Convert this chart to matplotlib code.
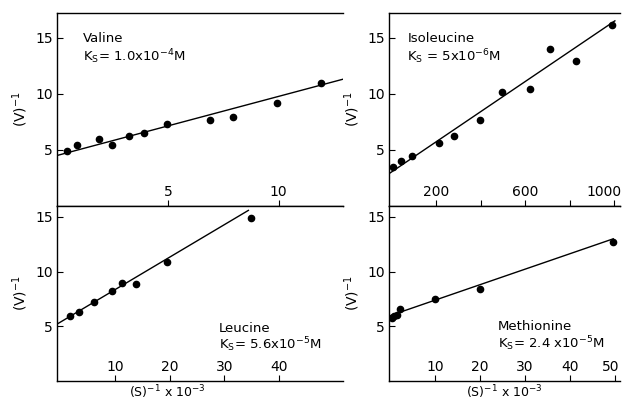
import matplotlib
matplotlib.use("Agg")
import matplotlib.pyplot as plt
import matplotlib.transforms as mtransforms

# Valine
val_x = [0.44, 0.92, 1.9, 2.48, 3.24, 3.92, 4.98, 6.9, 7.94, 9.93, 11.9]
val_y = [4.9, 5.4, 6.0, 5.4, 6.2, 6.5, 7.35, 7.7, 7.9, 9.2, 11.0]
val_line = [(0.0, 4.5), (12.9, 11.3)]

# Isoleucine
ile_x = [3, 42, 91, 211, 277, 395, 493, 619, 710, 825, 990]
ile_y = [3.45, 4.0, 4.5, 5.6, 6.2, 7.7, 10.15, 10.45, 14.0, 12.95, 16.1]
ile_line = [(-12, 2.9), (1002, 16.5)]

# Leucine
leu_x = [1.7, 3.5, 6.2, 9.5, 11.2, 13.8, 19.6, 34.9]
leu_y = [5.97, 6.28, 7.2, 8.2, 9.0, 8.85, 10.9, 14.9]
leu_line = [(-0.6, 5.2), (34.4, 15.6)]

# Methionine
met_x = [0.4, 1.0, 1.5, 2.2, 10.1, 20.0, 49.6]
met_y = [5.8, 5.9, 6.0, 6.6, 7.5, 8.45, 12.7]
met_line = [(0.0, 5.97), (49.6, 13.0)]

plt.rcParams["font.family"] = ["DejaVu Sans"]
plt.rcParams["mathtext.fontset"] = "dejavusans"

fig = plt.figure(figsize=(6.22, 4.0), dpi=100)
W, H = 622, 400


def make_ax(x0, x1, y0, y1):
    return fig.add_axes([x0 / W, 1 - y1 / H, (x1 - x0) / W, (y1 - y0) / H])


ax_val = make_ax(57, 343, 13, 206)
ax_ile = make_ax(389, 620, 13, 206)
ax_leu = make_ax(57, 343, 206, 381)
ax_met = make_ax(389, 620, 206, 381)

panels = [
    (ax_val, val_x, val_y, val_line, (0, 12.9), (0, 17.2), [5, 10], [5, 10],
     "Valine", r"K$_\mathrm{S}$= 1.0x10$^{-4}$M", (0.09, 0.85)),
    (ax_ile, ile_x, ile_y, ile_line, (-13.5, 1025), (0, 17.2), [200, 400, 600, 800, 1000],
     ["200", "", "600", "", "1000"],
     "Isoleucine", r"K$_\mathrm{S}$ = 5x10$^{-6}$M", (0.08, 0.85)),
    (ax_leu, leu_x, leu_y, leu_line, (-0.6, 51.7), (0, 16), [10, 20, 30, 40], [10, 20, 30, 40],
     "Leucine", r"K$_\mathrm{S}$= 5.6x10$^{-5}$M", (0.565, 0.28)),
    (ax_met, met_x, met_y, met_line, (-0.2, 51.1), (0, 16), [10, 20, 30, 40, 50],
     [10, 20, 30, 40, 50],
     "Methionine", r"K$_\mathrm{S}$= 2.4 x10$^{-5}$M", (0.47, 0.29)),
]

for ax, xs, ys, line, xlim, ylim, xt, xtl, name, ks, pos in panels:
    ax.plot(xs, ys, "o", color="black", markersize=4.5)
    lx, ly = zip(*line)
    ax.plot(lx, ly, "-", color="black", linewidth=1.0)
    ax.set_xlim(*xlim)
    ax.set_ylim(*ylim)
    ax.set_xticks(xt)
    ax.set_xticklabels([str(t) for t in xtl])
    ax.set_yticks([5, 10, 15])
    ax.tick_params(axis="x", direction="in", length=4, pad=-15, labelsize=10)
    ax.tick_params(axis="y", direction="in", length=4, pad=3, labelsize=10)
    ax.spines["right"].set_visible(False)
    for s in ["left", "top", "bottom"]:
        ax.spines[s].set_linewidth(1.0)
    ax.set_ylabel(r"(V)$^{-1}$", fontsize=10, labelpad=4)
    ax.text(pos[0], pos[1], name, transform=ax.transAxes, fontsize=9.5)
    ax.text(pos[0], pos[1] - 0.1, ks, transform=ax.transAxes, fontsize=9.5)

# shift edge tick labels left so they stay inside the figure
for ax, dx in [(ax_ile, -10), (ax_met, -4)]:
    lab = ax.get_xticklabels()[-1]
    lab.set_transform(lab.get_transform()
                      + mtransforms.ScaledTranslation(dx / 100, 0, fig.dpi_scale_trans))

for ax, cx in [(ax_leu, 0.385), (ax_met, 0.5)]:
    ax.set_xlabel(r"(S)$^{-1}$ x 10$^{-3}$", fontsize=9)
    ax.xaxis.set_label_coords(cx, -0.015)

fig.savefig("out.png", dpi=100)
